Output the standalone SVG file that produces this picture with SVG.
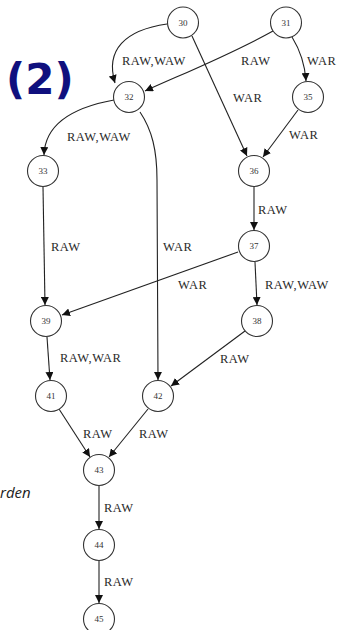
<svg xmlns="http://www.w3.org/2000/svg" width="344" height="630" viewBox="0 0 344 630">
  <defs>
    <marker id="arrow" viewBox="0 0 10 10" refX="10" refY="5" markerWidth="8" markerHeight="8" markerUnits="userSpaceOnUse" orient="auto">
      <path d="M0,0 L10,5 L0,10 z" fill="#111"/>
    </marker>
    <style>
      .node circle { fill: #fff; stroke: #333; stroke-width: 1.1; }
      .node text { font-family: "Liberation Serif", "Times New Roman", serif; font-size: 9px; fill: #333; text-anchor: middle; }
      .edge { fill: none; stroke: #222; stroke-width: 1.1; marker-end: url(#arrow); }
      .lbl { font-family: "Liberation Serif", "Times New Roman", serif; font-size: 12.5px; letter-spacing: 0.5px; fill: #2a2a2a; }
      .title { font-family: "DejaVu Sans", Verdana, sans-serif; font-weight: bold; font-size: 42px; fill: #10107e; }
      .note { font-family: "Open Sans", "DejaVu Sans", sans-serif; font-style: italic; font-size: 15px; fill: #222; }
    </style>
  </defs>

  <rect width="344" height="630" fill="#fff"/>

  <text class="title" x="6" y="94">(2)</text>
  <text class="note" x="0" y="498">rden</text>

  <!-- dependency edges -->
  <g id="edges">
    <path class="edge" d="M167,24 C125,30 105,50 115,83"/>
    <path class="edge" d="M192,36 L247,156"/>
    <path class="edge" d="M273,31 C230,55 180,75 145,91"/>
    <path class="edge" d="M292,37 C300,50 305,65 306,81"/>
    <path class="edge" d="M298,110 L263,157"/>
    <path class="edge" d="M114,100 C70,108 45,125 44,155"/>
    <path class="edge" d="M140,112 C152,130 157,150 157,180 L158,380"/>
    <path class="edge" d="M43,187 L45,305"/>
    <path class="edge" d="M254,187 L254,230"/>
    <path class="edge" d="M238,252 L62,315"/>
    <path class="edge" d="M255,262 L257,305"/>
    <path class="edge" d="M47,337 L50,380"/>
    <path class="edge" d="M245,331 L171,386"/>
    <path class="edge" d="M59,409 L90,457"/>
    <path class="edge" d="M148,409 L109,457"/>
    <path class="edge" d="M99,486 L99,529"/>
    <path class="edge" d="M99,561 L99,603"/>
  </g>

  <!-- edge labels -->
  <g id="labels">
    <text class="lbl" x="122" y="65">RAW,WAW</text>
    <text class="lbl" x="241" y="65">RAW</text>
    <text class="lbl" x="307" y="65">WAR</text>
    <text class="lbl" x="233" y="102">WAR</text>
    <text class="lbl" x="67" y="141">RAW,WAW</text>
    <text class="lbl" x="289" y="139">WAR</text>
    <text class="lbl" x="51" y="251">RAW</text>
    <text class="lbl" x="163" y="251">WAR</text>
    <text class="lbl" x="258" y="214">RAW</text>
    <text class="lbl" x="178" y="289">WAR</text>
    <text class="lbl" x="265" y="289">RAW,WAW</text>
    <text class="lbl" x="60" y="362">RAW,WAR</text>
    <text class="lbl" x="220" y="363">RAW</text>
    <text class="lbl" x="83" y="438">RAW</text>
    <text class="lbl" x="139" y="438">RAW</text>
    <text class="lbl" x="104" y="512">RAW</text>
    <text class="lbl" x="104" y="586">RAW</text>
  </g>

  <!-- instruction nodes -->
  <g id="n30" class="node"><circle cx="183" cy="22.5" r="15.5"/><text x="183" y="25.5">30</text></g>
  <g id="n31" class="node"><circle cx="286" cy="22.5" r="15.5"/><text x="286" y="25.5">31</text></g>
  <g id="n32" class="node"><circle cx="129" cy="97" r="15.5"/><text x="129" y="100">32</text></g>
  <g id="n35" class="node"><circle cx="308" cy="97" r="15.5"/><text x="308" y="100">35</text></g>
  <g id="n33" class="node"><circle cx="43" cy="171" r="15.5"/><text x="43" y="174">33</text></g>
  <g id="n36" class="node"><circle cx="254" cy="171" r="15.5"/><text x="254" y="174">36</text></g>
  <g id="n37" class="node"><circle cx="254" cy="246" r="15.5"/><text x="254" y="249">37</text></g>
  <g id="n39" class="node"><circle cx="46" cy="321" r="15.5"/><text x="46" y="324">39</text></g>
  <g id="n38" class="node"><circle cx="257" cy="321" r="15.5"/><text x="257" y="324">38</text></g>
  <g id="n41" class="node"><circle cx="51" cy="396" r="15.5"/><text x="51" y="399">41</text></g>
  <g id="n42" class="node"><circle cx="158" cy="396" r="15.5"/><text x="158" y="399">42</text></g>
  <g id="n43" class="node"><circle cx="99" cy="470" r="15.5"/><text x="99" y="473">43</text></g>
  <g id="n44" class="node"><circle cx="99" cy="545" r="15.5"/><text x="99" y="548">44</text></g>
  <g id="n45" class="node"><circle cx="99" cy="619" r="15.5"/><text x="99" y="622">45</text></g>
</svg>
